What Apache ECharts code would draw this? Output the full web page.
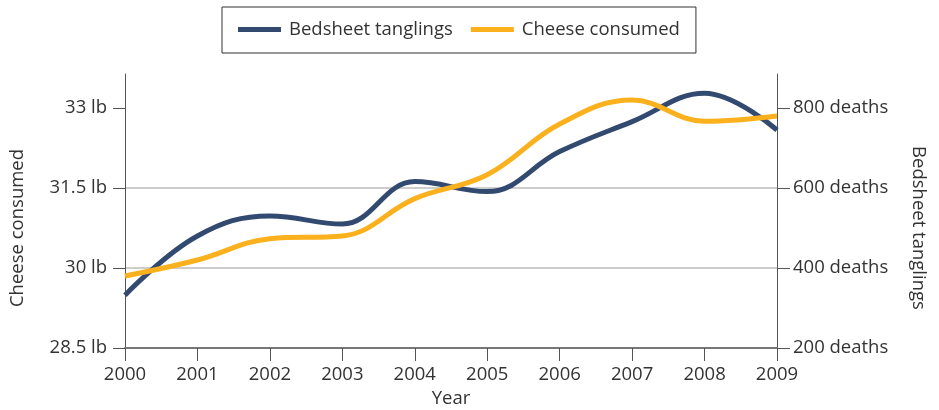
<!DOCTYPE html>
<html>
<head>
<meta charset="utf-8">
<script src="https://cdn.jsdelivr.net/npm/echarts@6/dist/echarts.min.js"></script>
<style>
  html, body { margin: 0; padding: 0; background: #ffffff; }
  #chart { width: 939px; height: 410px; }
</style>
</head>
<body>
<div id="chart"></div>
<script>
// Years on the horizontal axis
const years = ['2000', '2001', '2002', '2003', '2004', '2005', '2006', '2007', '2008', '2009'];
// Deaths by becoming tangled in bedsheets (right axis)
const bedsheetDeaths = [332, 480, 530, 510, 616, 591, 691, 766, 837, 745];
// Per-capita cheese consumption in pounds (left axis)
const cheesePounds = [29.85, 30.15, 30.55, 30.6, 31.3, 31.75, 32.7, 33.15, 32.75, 32.85];
// Tick values shown on each vertical axis
const cheeseTicks = [28.5, 30, 31.5, 33];
const deathTicks = [200, 400, 600, 800];

const FONT = '"Open Sans", "Noto Sans", sans-serif';
const FS = 18.5;
const TEXT = '#333333';
const BLUE = '#334a70';
const ORANGE = '#fbb01d';

const chart = echarts.init(document.getElementById('chart'), null, { renderer: 'canvas' });

chart.setOption({
  animation: false,
  textStyle: { fontFamily: FONT, color: TEXT },
  legend: {
    left: 222,
    top: 7,
    padding: [13, 16, 14, 16],
    borderColor: '#333333',
    borderWidth: 1,
    itemGap: 18,
    itemWidth: 43,
    itemHeight: 5,
    icon: 'rect',
    textStyle: { fontFamily: FONT, fontSize: FS, color: TEXT, padding: [0, 0, 0, 3] },
    data: ['Bedsheet tanglings', 'Cheese consumed']
  },
  grid: { left: 125, right: 162, top: 74, bottom: 62, containLabel: false, outerBoundsMode: 'none' },
  xAxis: {
    type: 'category',
    data: years,
    boundaryGap: false,
    name: 'Year',
    nameLocation: 'middle',
    nameGap: 41,
    nameTextStyle: { fontFamily: FONT, fontSize: FS, color: TEXT },
    axisLine: { lineStyle: { color: '#777777', width: 2 } },
    axisTick: { show: true, length: 13, alignWithLabel: true, lineStyle: { color: '#555555', width: 1 } },
    axisLabel: { fontFamily: FONT, fontSize: FS, color: TEXT, margin: 17, interval: 0 },
    splitLine: { show: false }
  },
  yAxis: [
    {
      type: 'value',
      position: 'left',
      min: 28.5,
      max: 28.5 + 274 / 80 * 1.5,
      interval: 1.5,
      name: 'Cheese consumed',
      nameLocation: 'middle',
      nameGap: 98,
      nameRotate: 90,
      nameTextStyle: { fontFamily: FONT, fontSize: FS, color: TEXT, padding: [0, 34, 0, 0] },
      axisLine: { show: true, lineStyle: { color: '#555555', width: 1 } },
      axisTick: { show: true, length: 12, customValues: cheeseTicks, lineStyle: { color: '#555555', width: 1 } },
      axisLabel: {
        fontFamily: FONT, fontSize: FS, color: TEXT, margin: 18,
        customValues: cheeseTicks,
        formatter: v => v + ' lb'
      },
      splitLine: { show: true, showMaxLine: false, lineStyle: { color: '#bdbdbd', width: 1.5 } }
    },
    {
      type: 'value',
      position: 'right',
      min: 200,
      max: 200 + 274 * 2.5,
      interval: 200,
      name: 'Bedsheet tanglings',
      nameLocation: 'middle',
      nameGap: 132,
      nameRotate: -90,
      nameTextStyle: { fontFamily: FONT, fontSize: FS, color: TEXT, padding: [0, 0, 0, 34] },
      axisLine: { show: true, lineStyle: { color: '#555555', width: 1 } },
      axisTick: { show: true, length: 13, customValues: deathTicks, lineStyle: { color: '#555555', width: 1 } },
      axisLabel: {
        fontFamily: FONT, fontSize: FS, color: TEXT, margin: 16,
        customValues: deathTicks,
        formatter: v => v + ' deaths'
      },
      splitLine: { show: false }
    }
  ],
  series: [
    {
      name: 'Bedsheet tanglings',
      type: 'line',
      yAxisIndex: 1,
      data: bedsheetDeaths,
      smooth: 0.4,
      showSymbol: false,
      symbol: 'none',
      color: BLUE,
      lineStyle: { color: BLUE, width: 5 },
      z: 3
    },
    {
      name: 'Cheese consumed',
      type: 'line',
      yAxisIndex: 0,
      data: cheesePounds,
      smooth: 0.4,
      showSymbol: false,
      symbol: 'none',
      color: ORANGE,
      lineStyle: { color: ORANGE, width: 5 },
      z: 4
    }
  ]
});
</script>
</body>
</html>
